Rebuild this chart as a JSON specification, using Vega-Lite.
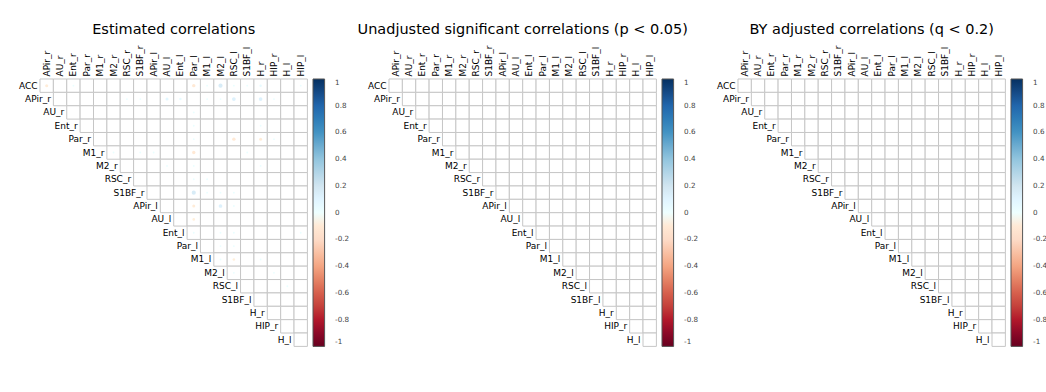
{
  "$schema": "https://vega.github.io/schema/vega-lite/v6.json",
  "background": "white",
  "padding": {"left": 18, "top": 21, "right": 5, "bottom": 5},
  "bounds": "flush",
  "spacing": 81,
  "datasets": {
    "cells": [
      {"row":"ACC","col":"APir_r","r":-0.08},{"row":"ACC","col":"AU_r","r":0},{"row":"ACC","col":"Ent_r","r":0.03},{"row":"ACC","col":"Par_r","r":0},{"row":"ACC","col":"M1_r","r":0},{"row":"ACC","col":"M2_r","r":0},{"row":"ACC","col":"RSC_r","r":0},{"row":"ACC","col":"S1BF_r","r":0},{"row":"ACC","col":"APir_l","r":0},{"row":"ACC","col":"AU_l","r":0},{"row":"ACC","col":"Ent_l","r":0},{"row":"ACC","col":"Par_l","r":-0.1},{"row":"ACC","col":"M1_l","r":0.03},{"row":"ACC","col":"M2_l","r":0.15},{"row":"ACC","col":"RSC_l","r":0.03},{"row":"ACC","col":"S1BF_l","r":0.03},{"row":"ACC","col":"H_r","r":0.05},{"row":"ACC","col":"HIP_r","r":0},{"row":"ACC","col":"H_l","r":0},{"row":"ACC","col":"HIP_l","r":0.03},
      {"row":"APir_r","col":"AU_r","r":0},{"row":"APir_r","col":"Ent_r","r":0},{"row":"APir_r","col":"Par_r","r":0},{"row":"APir_r","col":"M1_r","r":0},{"row":"APir_r","col":"M2_r","r":0},{"row":"APir_r","col":"RSC_r","r":0.03},{"row":"APir_r","col":"S1BF_r","r":0.03},{"row":"APir_r","col":"APir_l","r":0},{"row":"APir_r","col":"AU_l","r":0.08},{"row":"APir_r","col":"Ent_l","r":0.05},{"row":"APir_r","col":"Par_l","r":0},{"row":"APir_r","col":"M1_l","r":0.03},{"row":"APir_r","col":"M2_l","r":0.03},{"row":"APir_r","col":"RSC_l","r":0.12},{"row":"APir_r","col":"S1BF_l","r":0},{"row":"APir_r","col":"H_r","r":0.12},{"row":"APir_r","col":"HIP_r","r":0.03},{"row":"APir_r","col":"H_l","r":0},{"row":"APir_r","col":"HIP_l","r":0},
      {"row":"AU_r","col":"Ent_r","r":0},{"row":"AU_r","col":"Par_r","r":0},{"row":"AU_r","col":"M1_r","r":0},{"row":"AU_r","col":"M2_r","r":0},{"row":"AU_r","col":"RSC_r","r":0},{"row":"AU_r","col":"S1BF_r","r":0},{"row":"AU_r","col":"APir_l","r":0},{"row":"AU_r","col":"AU_l","r":0},{"row":"AU_r","col":"Ent_l","r":0},{"row":"AU_r","col":"Par_l","r":0.03},{"row":"AU_r","col":"M1_l","r":0},{"row":"AU_r","col":"M2_l","r":0},{"row":"AU_r","col":"RSC_l","r":0},{"row":"AU_r","col":"S1BF_l","r":0},{"row":"AU_r","col":"H_r","r":0},{"row":"AU_r","col":"HIP_r","r":0},{"row":"AU_r","col":"H_l","r":0},{"row":"AU_r","col":"HIP_l","r":0},
      {"row":"Ent_r","col":"Par_r","r":0},{"row":"Ent_r","col":"M1_r","r":0},{"row":"Ent_r","col":"M2_r","r":0},{"row":"Ent_r","col":"RSC_r","r":0},{"row":"Ent_r","col":"S1BF_r","r":0},{"row":"Ent_r","col":"APir_l","r":0},{"row":"Ent_r","col":"AU_l","r":0},{"row":"Ent_r","col":"Ent_l","r":0},{"row":"Ent_r","col":"Par_l","r":0.03},{"row":"Ent_r","col":"M1_l","r":0},{"row":"Ent_r","col":"M2_l","r":0},{"row":"Ent_r","col":"RSC_l","r":0},{"row":"Ent_r","col":"S1BF_l","r":0},{"row":"Ent_r","col":"H_r","r":0.03},{"row":"Ent_r","col":"HIP_r","r":0},{"row":"Ent_r","col":"H_l","r":0},{"row":"Ent_r","col":"HIP_l","r":0},
      {"row":"Par_r","col":"M1_r","r":0},{"row":"Par_r","col":"M2_r","r":0},{"row":"Par_r","col":"RSC_r","r":0},{"row":"Par_r","col":"S1BF_r","r":0},{"row":"Par_r","col":"APir_l","r":0},{"row":"Par_r","col":"AU_l","r":0},{"row":"Par_r","col":"Ent_l","r":0},{"row":"Par_r","col":"Par_l","r":0.03},{"row":"Par_r","col":"M1_l","r":0},{"row":"Par_r","col":"M2_l","r":0},{"row":"Par_r","col":"RSC_l","r":-0.1},{"row":"Par_r","col":"S1BF_l","r":0},{"row":"Par_r","col":"H_r","r":-0.08},{"row":"Par_r","col":"HIP_r","r":0.03},{"row":"Par_r","col":"H_l","r":0},{"row":"Par_r","col":"HIP_l","r":0},
      {"row":"M1_r","col":"M2_r","r":0.03},{"row":"M1_r","col":"RSC_r","r":0},{"row":"M1_r","col":"S1BF_r","r":0.03},{"row":"M1_r","col":"APir_l","r":0.03},{"row":"M1_r","col":"AU_l","r":0},{"row":"M1_r","col":"Ent_l","r":0},{"row":"M1_r","col":"Par_l","r":-0.1},{"row":"M1_r","col":"M1_l","r":0},{"row":"M1_r","col":"M2_l","r":0},{"row":"M1_r","col":"RSC_l","r":0},{"row":"M1_r","col":"S1BF_l","r":0.03},{"row":"M1_r","col":"H_r","r":0},{"row":"M1_r","col":"HIP_r","r":0},{"row":"M1_r","col":"H_l","r":0},{"row":"M1_r","col":"HIP_l","r":0},
      {"row":"M2_r","col":"RSC_r","r":0},{"row":"M2_r","col":"S1BF_r","r":0},{"row":"M2_r","col":"APir_l","r":0},{"row":"M2_r","col":"AU_l","r":0.03},{"row":"M2_r","col":"Ent_l","r":0},{"row":"M2_r","col":"Par_l","r":0.03},{"row":"M2_r","col":"M1_l","r":0},{"row":"M2_r","col":"M2_l","r":0},{"row":"M2_r","col":"RSC_l","r":0},{"row":"M2_r","col":"S1BF_l","r":0},{"row":"M2_r","col":"H_r","r":0.03},{"row":"M2_r","col":"HIP_r","r":0},{"row":"M2_r","col":"H_l","r":0},{"row":"M2_r","col":"HIP_l","r":0},
      {"row":"RSC_r","col":"S1BF_r","r":0},{"row":"RSC_r","col":"APir_l","r":0},{"row":"RSC_r","col":"AU_l","r":0},{"row":"RSC_r","col":"Ent_l","r":0},{"row":"RSC_r","col":"Par_l","r":0.03},{"row":"RSC_r","col":"M1_l","r":0.03},{"row":"RSC_r","col":"M2_l","r":0},{"row":"RSC_r","col":"RSC_l","r":0},{"row":"RSC_r","col":"S1BF_l","r":0},{"row":"RSC_r","col":"H_r","r":0},{"row":"RSC_r","col":"HIP_r","r":0},{"row":"RSC_r","col":"H_l","r":0},{"row":"RSC_r","col":"HIP_l","r":0},
      {"row":"S1BF_r","col":"APir_l","r":0},{"row":"S1BF_r","col":"AU_l","r":0},{"row":"S1BF_r","col":"Ent_l","r":0},{"row":"S1BF_r","col":"Par_l","r":0.15},{"row":"S1BF_r","col":"M1_l","r":0.03},{"row":"S1BF_r","col":"M2_l","r":0.03},{"row":"S1BF_r","col":"RSC_l","r":0.03},{"row":"S1BF_r","col":"S1BF_l","r":0},{"row":"S1BF_r","col":"H_r","r":0},{"row":"S1BF_r","col":"HIP_r","r":0},{"row":"S1BF_r","col":"H_l","r":0},{"row":"S1BF_r","col":"HIP_l","r":0},
      {"row":"APir_l","col":"AU_l","r":0},{"row":"APir_l","col":"Ent_l","r":0},{"row":"APir_l","col":"Par_l","r":-0.08},{"row":"APir_l","col":"M1_l","r":0},{"row":"APir_l","col":"M2_l","r":0.12},{"row":"APir_l","col":"RSC_l","r":0.03},{"row":"APir_l","col":"S1BF_l","r":0},{"row":"APir_l","col":"H_r","r":0},{"row":"APir_l","col":"HIP_r","r":0},{"row":"APir_l","col":"H_l","r":0},{"row":"APir_l","col":"HIP_l","r":0},
      {"row":"AU_l","col":"Ent_l","r":0},{"row":"AU_l","col":"Par_l","r":-0.06},{"row":"AU_l","col":"M1_l","r":0},{"row":"AU_l","col":"M2_l","r":0},{"row":"AU_l","col":"RSC_l","r":0},{"row":"AU_l","col":"S1BF_l","r":0},{"row":"AU_l","col":"H_r","r":0},{"row":"AU_l","col":"HIP_r","r":0},{"row":"AU_l","col":"H_l","r":0},{"row":"AU_l","col":"HIP_l","r":0},
      {"row":"Ent_l","col":"Par_l","r":0.03},{"row":"Ent_l","col":"M1_l","r":0},{"row":"Ent_l","col":"M2_l","r":0.03},{"row":"Ent_l","col":"RSC_l","r":0.03},{"row":"Ent_l","col":"S1BF_l","r":0},{"row":"Ent_l","col":"H_r","r":0},{"row":"Ent_l","col":"HIP_r","r":0},{"row":"Ent_l","col":"H_l","r":0},{"row":"Ent_l","col":"HIP_l","r":0.03},
      {"row":"Par_l","col":"M1_l","r":0},{"row":"Par_l","col":"M2_l","r":0.03},{"row":"Par_l","col":"RSC_l","r":0.03},{"row":"Par_l","col":"S1BF_l","r":0},{"row":"Par_l","col":"H_r","r":0},{"row":"Par_l","col":"HIP_r","r":0},{"row":"Par_l","col":"H_l","r":0},{"row":"Par_l","col":"HIP_l","r":0},
      {"row":"M1_l","col":"M2_l","r":0.03},{"row":"M1_l","col":"RSC_l","r":-0.06},{"row":"M1_l","col":"S1BF_l","r":0},{"row":"M1_l","col":"H_r","r":0.03},{"row":"M1_l","col":"HIP_r","r":0},{"row":"M1_l","col":"H_l","r":0},{"row":"M1_l","col":"HIP_l","r":0},
      {"row":"M2_l","col":"RSC_l","r":0.03},{"row":"M2_l","col":"S1BF_l","r":0},{"row":"M2_l","col":"H_r","r":0},{"row":"M2_l","col":"HIP_r","r":0.03},{"row":"M2_l","col":"H_l","r":0},{"row":"M2_l","col":"HIP_l","r":0},
      {"row":"RSC_l","col":"S1BF_l","r":0},{"row":"RSC_l","col":"H_r","r":0},{"row":"RSC_l","col":"HIP_r","r":0},{"row":"RSC_l","col":"H_l","r":0.03},{"row":"RSC_l","col":"HIP_l","r":0},
      {"row":"S1BF_l","col":"H_r","r":0},{"row":"S1BF_l","col":"HIP_r","r":0},{"row":"S1BF_l","col":"H_l","r":0},{"row":"S1BF_l","col":"HIP_l","r":0},
      {"row":"H_r","col":"HIP_r","r":0},{"row":"H_r","col":"H_l","r":0},{"row":"H_r","col":"HIP_l","r":0},
      {"row":"HIP_r","col":"H_l","r":0},{"row":"HIP_r","col":"HIP_l","r":0},
      {"row":"H_l","col":"HIP_l","r":0}
    ],
    "labels": [
      {"row":"ACC","col":"APir_r"},{"row":"APir_r","col":"AU_r"},{"row":"AU_r","col":"Ent_r"},{"row":"Ent_r","col":"Par_r"},{"row":"Par_r","col":"M1_r"},{"row":"M1_r","col":"M2_r"},{"row":"M2_r","col":"RSC_r"},{"row":"RSC_r","col":"S1BF_r"},{"row":"S1BF_r","col":"APir_l"},{"row":"APir_l","col":"AU_l"},{"row":"AU_l","col":"Ent_l"},{"row":"Ent_l","col":"Par_l"},{"row":"Par_l","col":"M1_l"},{"row":"M1_l","col":"M2_l"},{"row":"M2_l","col":"RSC_l"},{"row":"RSC_l","col":"S1BF_l"},{"row":"S1BF_l","col":"H_r"},{"row":"H_r","col":"HIP_r"},{"row":"HIP_r","col":"H_l"},{"row":"H_l","col":"HIP_l"}
    ],
    "sig_p": [],
    "sig_q": []
  },
  "hconcat": [
    {
      "title": "Estimated correlations",
      "width": 267.4, "height": 267.4,
      "encoding": {
        "x": {"field": "col", "type": "nominal", "sort": null,
          "scale": {"domain": ["APir_r","AU_r","Ent_r","Par_r","M1_r","M2_r","RSC_r","S1BF_r","APir_l","AU_l","Ent_l","Par_l","M1_l","M2_l","RSC_l","S1BF_l","H_r","HIP_r","H_l","HIP_l"], "paddingInner": 0, "paddingOuter": 0},
          "axis": {"orient": "top", "labelAngle": -90, "ticks": false, "domain": false, "title": null, "labelPadding": 3, "labelOverlap": false}},
        "y": {"field": "row", "type": "nominal", "sort": null,
          "scale": {"domain": ["ACC","APir_r","AU_r","Ent_r","Par_r","M1_r","M2_r","RSC_r","S1BF_r","APir_l","AU_l","Ent_l","Par_l","M1_l","M2_l","RSC_l","S1BF_l","H_r","HIP_r","H_l"], "paddingInner": 0, "paddingOuter": 0},
          "axis": null}
      },
      "layer": [
        {"data": {"name": "cells"}, "mark": {"type": "rect", "fill": "white", "stroke": "#c6c6c6", "strokeWidth": 1}},
        {"data": {"name": "cells"}, "mark": {"type": "circle", "opacity": 1, "strokeWidth": 0},
          "encoding": {
            "color": {"field": "r", "type": "quantitative",
              "scale": {"type": "linear", "domain": [-1,-0.8,-0.6,-0.4,-0.2,0,0.2,0.4,0.6,0.8,1], "range": ["#67001F","#B2182B","#D6604D","#F4A582","#FDDBC7","#FFFFFF","#D1E5F0","#92C5DE","#4393C3","#2166AC","#053061"]},
              "legend": {"title": null, "direction": "vertical", "gradientLength": 267.4, "gradientThickness": 11.6, "offset": 5, "padding": 0,
                "values": [-1,-0.8,-0.6,-0.4,-0.2,0,0.2,0.4,0.6,0.8,1], "labelExpr": "datum.value == 0 ? '0' : (datum.value < 0 ? '-' : '') + format(abs(datum.value), '~g')",
                "labelAlign": "center", "labelBaseline": "middle", "labelOffset": 10.5, "labelOverlap": false, "labelFontSize": 7.2, "labelColor": "#444", "labelFont": "DejaVu Sans",
                "gradientStrokeColor": "#555", "gradientStrokeWidth": 1}},
            "size": {"field": "r", "type": "quantitative", "scale": {"type": "linear", "domain": [-1,0,1], "range": [114,0,114]}, "legend": null}
          }},
        {"data": {"name": "labels"}, "mark": {"type": "text", "align": "right", "baseline": "middle", "dx": -9.2, "fontSize": 9, "font": "DejaVu Sans", "color": "black"},
          "encoding": {"text": {"field": "row"}}}
      ]
    },
    {
      "title": "Unadjusted significant correlations (p < 0.05)",
      "width": 267.4, "height": 267.4,
      "encoding": {
        "x": {"field": "col", "type": "nominal", "sort": null,
          "scale": {"domain": ["APir_r","AU_r","Ent_r","Par_r","M1_r","M2_r","RSC_r","S1BF_r","APir_l","AU_l","Ent_l","Par_l","M1_l","M2_l","RSC_l","S1BF_l","H_r","HIP_r","H_l","HIP_l"], "paddingInner": 0, "paddingOuter": 0},
          "axis": {"orient": "top", "labelAngle": -90, "ticks": false, "domain": false, "title": null, "labelPadding": 3, "labelOverlap": false}},
        "y": {"field": "row", "type": "nominal", "sort": null,
          "scale": {"domain": ["ACC","APir_r","AU_r","Ent_r","Par_r","M1_r","M2_r","RSC_r","S1BF_r","APir_l","AU_l","Ent_l","Par_l","M1_l","M2_l","RSC_l","S1BF_l","H_r","HIP_r","H_l"], "paddingInner": 0, "paddingOuter": 0},
          "axis": null}
      },
      "layer": [
        {"data": {"name": "cells"}, "mark": {"type": "rect", "fill": "white", "stroke": "#c6c6c6", "strokeWidth": 1}},
        {"data": {"name": "sig_p"}, "mark": {"type": "circle", "opacity": 1, "strokeWidth": 0},
          "encoding": {
            "color": {"field": "r", "type": "quantitative",
              "scale": {"type": "linear", "domain": [-1,-0.8,-0.6,-0.4,-0.2,0,0.2,0.4,0.6,0.8,1], "range": ["#67001F","#B2182B","#D6604D","#F4A582","#FDDBC7","#FFFFFF","#D1E5F0","#92C5DE","#4393C3","#2166AC","#053061"]},
              "legend": {"title": null, "direction": "vertical", "gradientLength": 267.4, "gradientThickness": 11.6, "offset": 5, "padding": 0,
                "values": [-1,-0.8,-0.6,-0.4,-0.2,0,0.2,0.4,0.6,0.8,1], "labelExpr": "datum.value == 0 ? '0' : (datum.value < 0 ? '-' : '') + format(abs(datum.value), '~g')",
                "labelAlign": "center", "labelBaseline": "middle", "labelOffset": 10.5, "labelOverlap": false, "labelFontSize": 7.2, "labelColor": "#444", "labelFont": "DejaVu Sans",
                "gradientStrokeColor": "#555", "gradientStrokeWidth": 1}},
            "size": {"field": "r", "type": "quantitative", "scale": {"type": "linear", "domain": [-1,0,1], "range": [114,0,114]}, "legend": null}
          }},
        {"data": {"name": "labels"}, "mark": {"type": "text", "align": "right", "baseline": "middle", "dx": -9.2, "fontSize": 9, "font": "DejaVu Sans", "color": "black"},
          "encoding": {"text": {"field": "row"}}}
      ]
    },
    {
      "title": "BY adjusted correlations (q < 0.2)",
      "width": 267.4, "height": 267.4,
      "encoding": {
        "x": {"field": "col", "type": "nominal", "sort": null,
          "scale": {"domain": ["APir_r","AU_r","Ent_r","Par_r","M1_r","M2_r","RSC_r","S1BF_r","APir_l","AU_l","Ent_l","Par_l","M1_l","M2_l","RSC_l","S1BF_l","H_r","HIP_r","H_l","HIP_l"], "paddingInner": 0, "paddingOuter": 0},
          "axis": {"orient": "top", "labelAngle": -90, "ticks": false, "domain": false, "title": null, "labelPadding": 3, "labelOverlap": false}},
        "y": {"field": "row", "type": "nominal", "sort": null,
          "scale": {"domain": ["ACC","APir_r","AU_r","Ent_r","Par_r","M1_r","M2_r","RSC_r","S1BF_r","APir_l","AU_l","Ent_l","Par_l","M1_l","M2_l","RSC_l","S1BF_l","H_r","HIP_r","H_l"], "paddingInner": 0, "paddingOuter": 0},
          "axis": null}
      },
      "layer": [
        {"data": {"name": "cells"}, "mark": {"type": "rect", "fill": "white", "stroke": "#c6c6c6", "strokeWidth": 1}},
        {"data": {"name": "sig_q"}, "mark": {"type": "circle", "opacity": 1, "strokeWidth": 0},
          "encoding": {
            "color": {"field": "r", "type": "quantitative",
              "scale": {"type": "linear", "domain": [-1,-0.8,-0.6,-0.4,-0.2,0,0.2,0.4,0.6,0.8,1], "range": ["#67001F","#B2182B","#D6604D","#F4A582","#FDDBC7","#FFFFFF","#D1E5F0","#92C5DE","#4393C3","#2166AC","#053061"]},
              "legend": {"title": null, "direction": "vertical", "gradientLength": 267.4, "gradientThickness": 11.6, "offset": 5, "padding": 0,
                "values": [-1,-0.8,-0.6,-0.4,-0.2,0,0.2,0.4,0.6,0.8,1], "labelExpr": "datum.value == 0 ? '0' : (datum.value < 0 ? '-' : '') + format(abs(datum.value), '~g')",
                "labelAlign": "center", "labelBaseline": "middle", "labelOffset": 10.5, "labelOverlap": false, "labelFontSize": 7.2, "labelColor": "#444", "labelFont": "DejaVu Sans",
                "gradientStrokeColor": "#555", "gradientStrokeWidth": 1}},
            "size": {"field": "r", "type": "quantitative", "scale": {"type": "linear", "domain": [-1,0,1], "range": [114,0,114]}, "legend": null}
          }},
        {"data": {"name": "labels"}, "mark": {"type": "text", "align": "right", "baseline": "middle", "dx": -9.2, "fontSize": 9, "font": "DejaVu Sans", "color": "black"},
          "encoding": {"text": {"field": "row"}}}
      ]
    }
  ],
  "resolve": {"scale": {"color": "independent", "size": "independent", "x": "independent", "y": "independent"}, "legend": {"color": "independent"}},
  "config": {
    "view": {"stroke": null},
    "font": "DejaVu Sans",
    "title": {"font": "DejaVu Sans", "fontSize": 14.5, "fontWeight": "normal", "color": "black", "anchor": "middle", "frame": "group", "offset": 8},
    "axis": {"labelFont": "DejaVu Sans", "labelFontSize": 9, "labelColor": "black", "grid": false}
  }
}
